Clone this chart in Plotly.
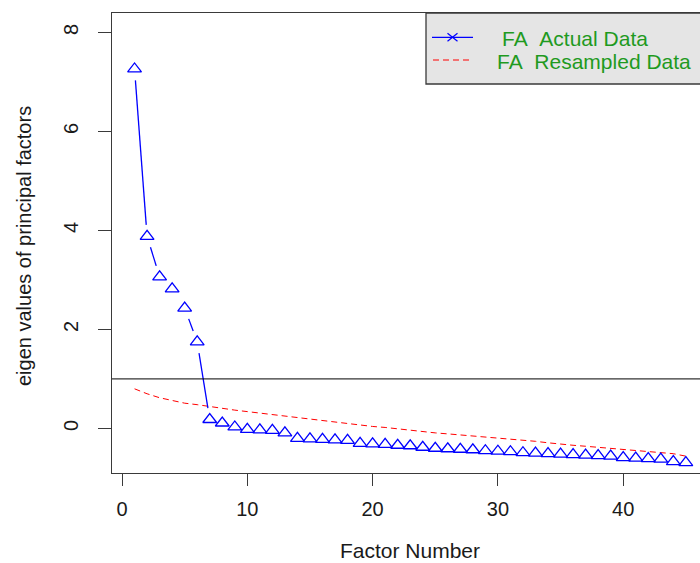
import math
import plotly.graph_objects as go

# ---------------- data ----------------
factor_number = list(range(1, 46))
actual_eigen = [7.26, 3.88, 3.06, 2.82, 2.43, 1.75, 0.18, 0.11, 0.03, -0.02,
                -0.03, -0.04, -0.09, -0.20, -0.21, -0.22, -0.23, -0.24, -0.30, -0.31,
                -0.32, -0.34, -0.35, -0.38, -0.40, -0.41, -0.42, -0.43, -0.45, -0.46,
                -0.47, -0.49, -0.50, -0.51, -0.52, -0.53, -0.54, -0.55, -0.56, -0.59,
                -0.60, -0.61, -0.62, -0.67, -0.69]
resampled_eigen = [0.80, 0.70, 0.62, 0.56, 0.51, 0.48, 0.44, 0.40, 0.37, 0.34,
                   0.31, 0.28, 0.25, 0.22, 0.18, 0.15, 0.12, 0.10, 0.07, 0.04,
                   0.02, -0.01, -0.03, -0.06, -0.09, -0.11, -0.13, -0.16, -0.18, -0.20,
                   -0.22, -0.24, -0.26, -0.29, -0.32, -0.34, -0.36, -0.38, -0.40, -0.42,
                   -0.45, -0.47, -0.49, -0.51, -0.56]
reference_line = 1
x_ticks = [0, 10, 20, 30, 40]
y_ticks = [0, 2, 4, 6, 8]
legend_labels = ["FA\u00a0\u00a0Actual Data", "FA\u00a0\u00a0Resampled Data"]
x_title = "Factor Number"
y_title = "eigen values of principal factors"

# ---------------- geometry ----------------
W, H = 700, 563
ML, MR, MT, MB = 112, 0, 13, 90
PW, PH = W - ML - MR, H - MT - MB
X0, X1 = -0.80, 46.13
Y0, Y1 = -0.90, 8.39

FONT = "Liberation Sans, Arial, sans-serif"
TXT = "#1a1a1a"
AX = "#3a3a3a"


def to_px(x, y):
    return ((x - X0) / (X1 - X0) * PW, (Y1 - y) / (Y1 - Y0) * PH)


def to_data(px, py):
    return (X0 + px / PW * (X1 - X0), Y1 - py / PH * (Y1 - Y0))


# R type="b": line segments with a gap around each point
GAP = 11.5
gx, gy = [], []
for i in range(len(factor_number) - 1):
    ax_, ay_ = to_px(factor_number[i], actual_eigen[i])
    bx_, by_ = to_px(factor_number[i + 1], actual_eigen[i + 1])
    L = math.hypot(bx_ - ax_, by_ - ay_)
    if L > 2 * GAP:
        ux, uy = (bx_ - ax_) / L, (by_ - ay_) / L
        p = to_data(ax_ + ux * GAP, ay_ + uy * GAP)
        q = to_data(bx_ - ux * GAP, by_ - uy * GAP)
        gx += [p[0], q[0], None]
        gy += [p[1], q[1], None]

fig = go.Figure()
fig.add_trace(go.Scatter(x=factor_number, y=resampled_eigen, mode="lines",
                         line=dict(color="#ff0000", width=1, dash="6px,4px"),
                         showlegend=False, hoverinfo="skip"))
fig.add_trace(go.Scatter(x=gx, y=gy, mode="lines",
                         line=dict(color="#0000ff", width=1.3),
                         showlegend=False, hoverinfo="skip"))
fig.add_trace(go.Scatter(x=factor_number, y=actual_eigen, mode="markers",
                         marker=dict(symbol="triangle-up-open", size=12, color="#0000ff",
                                     line=dict(color="#0000ff", width=1.3)),
                         showlegend=False))


def px2paper(px, py):
    return ((px - ML) / PW, (MT + PH - py) / PH)


shapes = [
    dict(type="line", xref="paper", yref="y", x0=0, x1=1, y0=reference_line, y1=reference_line,
         line=dict(color="black", width=1)),
]
# legend box
lx0, ly0 = px2paper(426, 84)
lx1, ly1 = px2paper(720, 13)
shapes.append(dict(type="rect", xref="paper", yref="paper", x0=lx0, x1=lx1, y0=ly0, y1=ly1,
                   fillcolor="#e5e5e5", line=dict(color=AX, width=1.3), layer="above"))
a0 = px2paper(432, 37.3)
a1 = px2paper(473, 37.3)
shapes.append(dict(type="line", xref="paper", yref="paper", x0=a0[0], x1=a1[0], y0=a0[1], y1=a1[1],
                   line=dict(color="#0000ff", width=1.3), layer="above"))
c = (452.5, 37.3)
for s in (1, -1):
    p = px2paper(c[0] - 5, c[1] - 4 * s)
    q = px2paper(c[0] + 5, c[1] + 4 * s)
    shapes.append(dict(type="line", xref="paper", yref="paper", x0=p[0], x1=q[0], y0=p[1], y1=q[1],
                       line=dict(color="#0000ff", width=1.3), layer="above"))
r0 = px2paper(433, 60)
r1 = px2paper(472, 60)
shapes.append(dict(type="line", xref="paper", yref="paper", x0=r0[0], x1=r1[0], y0=r0[1], y1=r1[1],
                   line=dict(color="#ff0000", width=1, dash="6px,4px"), layer="above"))

annotations = []
t1 = px2paper(500, 38.5)
t2 = px2paper(495, 61.5)
for (tx, ty), lab in zip([t1, t2], legend_labels):
    annotations.append(dict(text=lab, xref="paper", yref="paper", x=tx, y=ty,
                            xanchor="left", yanchor="middle", showarrow=False,
                            font=dict(family=FONT, size=21, color="#1f9a1f")))
xt = px2paper(410, 550)
annotations.append(dict(text=x_title, xref="paper", yref="paper", x=xt[0], y=xt[1],
                        xanchor="center", yanchor="middle", showarrow=False,
                        font=dict(family=FONT, size=21, color=TXT)))
yt = px2paper(24, 246)
annotations.append(dict(text=y_title, xref="paper", yref="paper", x=yt[0], y=yt[1],
                        xanchor="center", yanchor="middle", showarrow=False, textangle=-90,
                        font=dict(family=FONT, size=20, color=TXT)))

fig.update_layout(
    width=W, height=H,
    margin=dict(l=ML, r=MR, t=MT, b=MB, pad=0),
    paper_bgcolor="white", plot_bgcolor="white",
    shapes=shapes, annotations=annotations,
    xaxis=dict(range=[X0, X1], tickvals=x_ticks, ticktext=[str(v) for v in x_ticks],
               showgrid=False, zeroline=False, showline=True, mirror=True,
               linecolor=AX, linewidth=1.3, ticks="outside", ticklen=12, tickwidth=1.3,
               tickcolor=AX, tickfont=dict(family=FONT, size=20, color=TXT),
               ticklabelstandoff=6),
    yaxis=dict(range=[Y0, Y1], tickvals=y_ticks, ticktext=[str(v) for v in y_ticks],
               showgrid=False, zeroline=False, showline=True, mirror=False,
               linecolor=AX, linewidth=1.3, ticks="outside", ticklen=13, tickwidth=1.3,
               tickcolor=AX, tickangle=-90, tickfont=dict(family=FONT, size=20, color=TXT),
               ticklabelstandoff=12),
)

fig.write_html("out.html", config={"displayModeBar": False},
               post_script="document.body.style.margin='0';document.body.style.padding='0';")
